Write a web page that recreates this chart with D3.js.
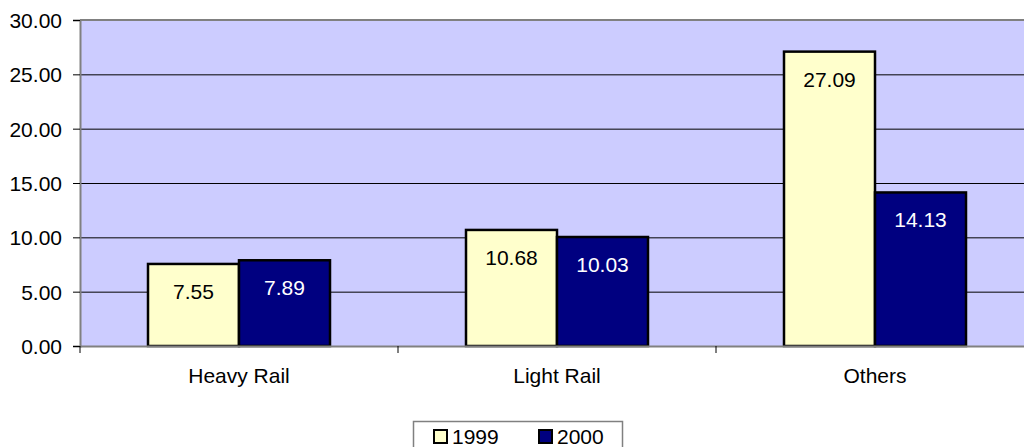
<!DOCTYPE html>
<html>
<head>
<meta charset="utf-8">
<script src="https://cdn.jsdelivr.net/npm/d3@7"></script>
<style>
  body { margin: 0; background: #fff; }
  svg { display: block; font-family: "Liberation Sans", Arial, sans-serif; }
</style>
</head>
<body>
<div class="chart"></div>
<script>
// data
var categories = ['Heavy Rail', 'Light Rail', 'Others'];
var seriesNames = ['1999', '2000'];
var values1999 = [7.55, 10.68, 27.09];
var values2000 = [7.89, 10.03, 14.13];
var yTicks = [0, 5, 10, 15, 20, 25, 30];

var width = 1024,
    height = 447;

var colors = { '1999': '#ffffcc', '2000': '#000080' };
var labelColors = { '1999': '#000', '2000': '#fff' };

var svg = d3.select('.chart').append('svg')
    .attr('width', width)
    .attr('height', height);

// plot area runs past the right edge, like the original
var x = d3.scaleBand()
    .domain(categories)
    .range([80, 1034]);

var xSub = d3.scaleBand()
    .domain(seriesNames)
    .range([68, 250]);

var y = d3.scaleLinear()
    .domain([0, 30])
    .range([346, 20]);

// plot background
svg.append('rect')
    .attr('x', 80)
    .attr('y', 20)
    .attr('width', 1034 - 80)
    .attr('height', 326)
    .attr('fill', '#ccccff');

// gridlines
svg.append('g')
  .selectAll('line')
  .data(yTicks.filter(function(d) { return d > 0 && d < 30; }))
  .enter().append('line')
    .attr('x1', 80)
    .attr('x2', 1034)
    .attr('y1', function(d) { return y(d) + 0.5; })
    .attr('y2', function(d) { return y(d) + 0.5; })
    .attr('stroke', '#000')
    .attr('stroke-width', 1);

// top border
svg.append('line')
    .attr('x1', 80).attr('x2', 1034)
    .attr('y1', 20).attr('y2', 20)
    .attr('stroke', '#808080')
    .attr('stroke-width', 2);

// bars
var rows = categories.map(function(c, i) {
  return [
    { cat: c, s: '1999', v: values1999[i] },
    { cat: c, s: '2000', v: values2000[i] }
  ];
});

var groups = svg.append('g')
  .selectAll('g')
  .data(rows)
  .enter().append('g')
    .attr('transform', function(d) { return 'translate(' + x(d[0].cat) + ',0)'; });

groups.selectAll('rect')
  .data(function(d) { return d; })
  .enter().append('rect')
    .attr('x', function(d) { return xSub(d.s); })
    .attr('y', function(d) { return y(d.v); })
    .attr('width', xSub.bandwidth())
    .attr('height', function(d) { return y(0) - y(d.v); })
    .attr('fill', function(d) { return colors[d.s]; })
    .attr('stroke', '#000')
    .attr('stroke-width', 2.5);

groups.selectAll('text')
  .data(function(d) { return d; })
  .enter().append('text')
    .attr('x', function(d) { return xSub(d.s) + xSub.bandwidth() / 2; })
    .attr('y', function(d) { return y(d.v) + 35; })
    .attr('text-anchor', 'middle')
    .attr('font-size', 21)
    .attr('fill', function(d) { return labelColors[d.s]; })
    .text(function(d) { return d.v.toFixed(2); });

// y axis
var yAxis = svg.append('g')
    .attr('transform', 'translate(80,0)')
    .call(d3.axisLeft(y).tickValues(yTicks).tickSize(7).tickPadding(11)
      .tickFormat(function(d) { return d.toFixed(2); }));
yAxis.select('.domain').attr('stroke', '#808080').attr('stroke-width', 2);
yAxis.selectAll('.tick line').attr('stroke', '#000');
yAxis.selectAll('.tick text')
    .attr('font-size', 21)
    .attr('font-family', '"Liberation Sans", Arial, sans-serif')
    .attr('fill', '#000')
    .attr('dy', '0.36em');

// x axis
var xAxis = svg.append('g')
    .attr('transform', 'translate(0,346)')
    .call(d3.axisBottom(x).tickSize(0).tickPadding(22));
xAxis.select('.domain').attr('stroke', '#808080').attr('stroke-width', 2);
xAxis.selectAll('.tick text')
    .attr('font-size', 21)
    .attr('font-family', '"Liberation Sans", Arial, sans-serif')
    .attr('fill', '#000');

// category separators
svg.append('g')
  .selectAll('line')
  .data(categories)
  .enter().append('line')
    .attr('x1', function(d) { return x(d); })
    .attr('x2', function(d) { return x(d); })
    .attr('y1', 346)
    .attr('y2', 353)
    .attr('stroke', '#000');

// legend
var legend = svg.append('g');
legend.append('rect')
    .attr('x', 413.5)
    .attr('y', 421.5)
    .attr('width', 209)
    .attr('height', 40)
    .attr('fill', '#fff')
    .attr('stroke', '#808080')
    .attr('stroke-width', 1.5);

var legendX = [433, 538];
var items = legend.selectAll('g.item')
  .data(seriesNames)
  .enter().append('g')
    .attr('class', 'item')
    .attr('transform', function(d, i) { return 'translate(' + legendX[i] + ',0)'; });

items.append('rect')
    .attr('x', 1)
    .attr('y', 430)
    .attr('width', 13)
    .attr('height', 13)
    .attr('fill', function(d) { return colors[d]; })
    .attr('stroke', '#000')
    .attr('stroke-width', 2);

items.append('text')
    .attr('x', 19)
    .attr('y', 444)
    .attr('font-size', 21)
    .attr('fill', '#000')
    .text(function(d) { return d; });
</script>
</body>
</html>
